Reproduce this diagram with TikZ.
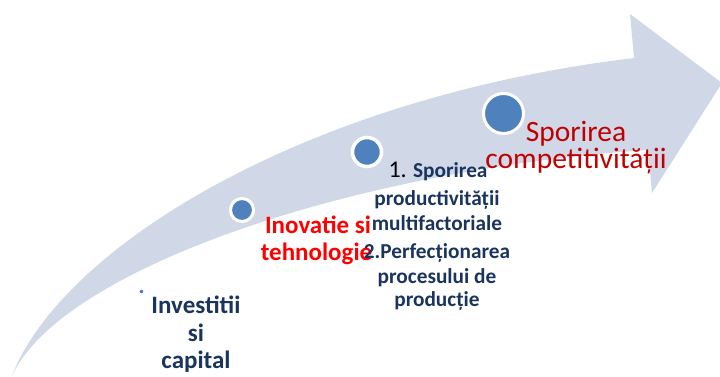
\documentclass[tikz,border=0pt]{standalone}
\usepackage{fontspec}
\setmainfont{Carlito}
\definecolor{arrowfill}{RGB}{208,216,232}
\definecolor{dotblue}{RGB}{79,129,189}
\definecolor{navy}{RGB}{26,52,94}
\definecolor{darkred}{RGB}{192,0,0}
\newcommand{\fsz}[1]{\fontsize{#1}{#1}\selectfont}
\begin{document}
\begin{tikzpicture}[x=1pt,y=-1pt,
  dot/.style={circle,fill=dotblue,draw=white,inner sep=0pt,outer sep=0pt},
  navytxt/.style={anchor=base,inner sep=0pt,text=navy,font=\fsz{21.3}\bfseries},
  invtxt/.style={anchor=base,inner sep=0pt,text=navy,font=\fsz{25}\bfseries},
  redtxt/.style={anchor=base,inner sep=0pt,text=red,font=\fsz{25}\bfseries},
  goaltxt/.style={anchor=base,inner sep=0pt,text=darkred,font=\fsz{29.5}}]
\useasboundingbox (0,0) rectangle (720,376);
% arrow
\fill[arrowfill] (12,376) .. controls (60,250) and (300,98) .. (634,58)
  -- (630,14) -- (722,83) -- (652,193) -- (648,150)
  .. controls (350,170) and (60,270) .. (12,376) -- cycle;
% circles
\node[dot,line width=1pt,minimum size=5pt] (d1) at (141.5,291.5) {};
\node[dot,line width=3pt,minimum size=23pt] (d2) at (242,210) {};
\node[dot,line width=3.5pt,minimum size=29pt] (d3) at (367,152) {};
\node[dot,line width=3pt,minimum size=40pt] (d4) at (503.5,113.5) {};
% texts
\node[invtxt] (t1a) at (196,313) {Investitii};
\node[invtxt] (t1b) at (196,341) {si};
\node[invtxt] (t1c) at (196,368) {capital};
\node[redtxt] (t2a) at (318,233) {Inovatie si};
\node[redtxt] (t2b) at (316.5,260) {tehnologie};
\node[navytxt] (t3a) at (438,177) {{\color{black}\mdseries\fsz{24}1.} Sporirea};
\node[navytxt] (t3b) at (437,205) {productivității};
\node[navytxt] (t3c) at (437,230) {multifactoriale};
\node[navytxt] (t3d) at (437,258) {2.Perfecționarea};
\node[navytxt] (t3e) at (437,283) {procesului de};
\node[navytxt] (t3f) at (437,306) {producție};
\node[goaltxt] (t4a) at (576,141) {Sporirea};
\node[goaltxt] (t4b) at (576,168) {competitivității};
\end{tikzpicture}
\end{document}
